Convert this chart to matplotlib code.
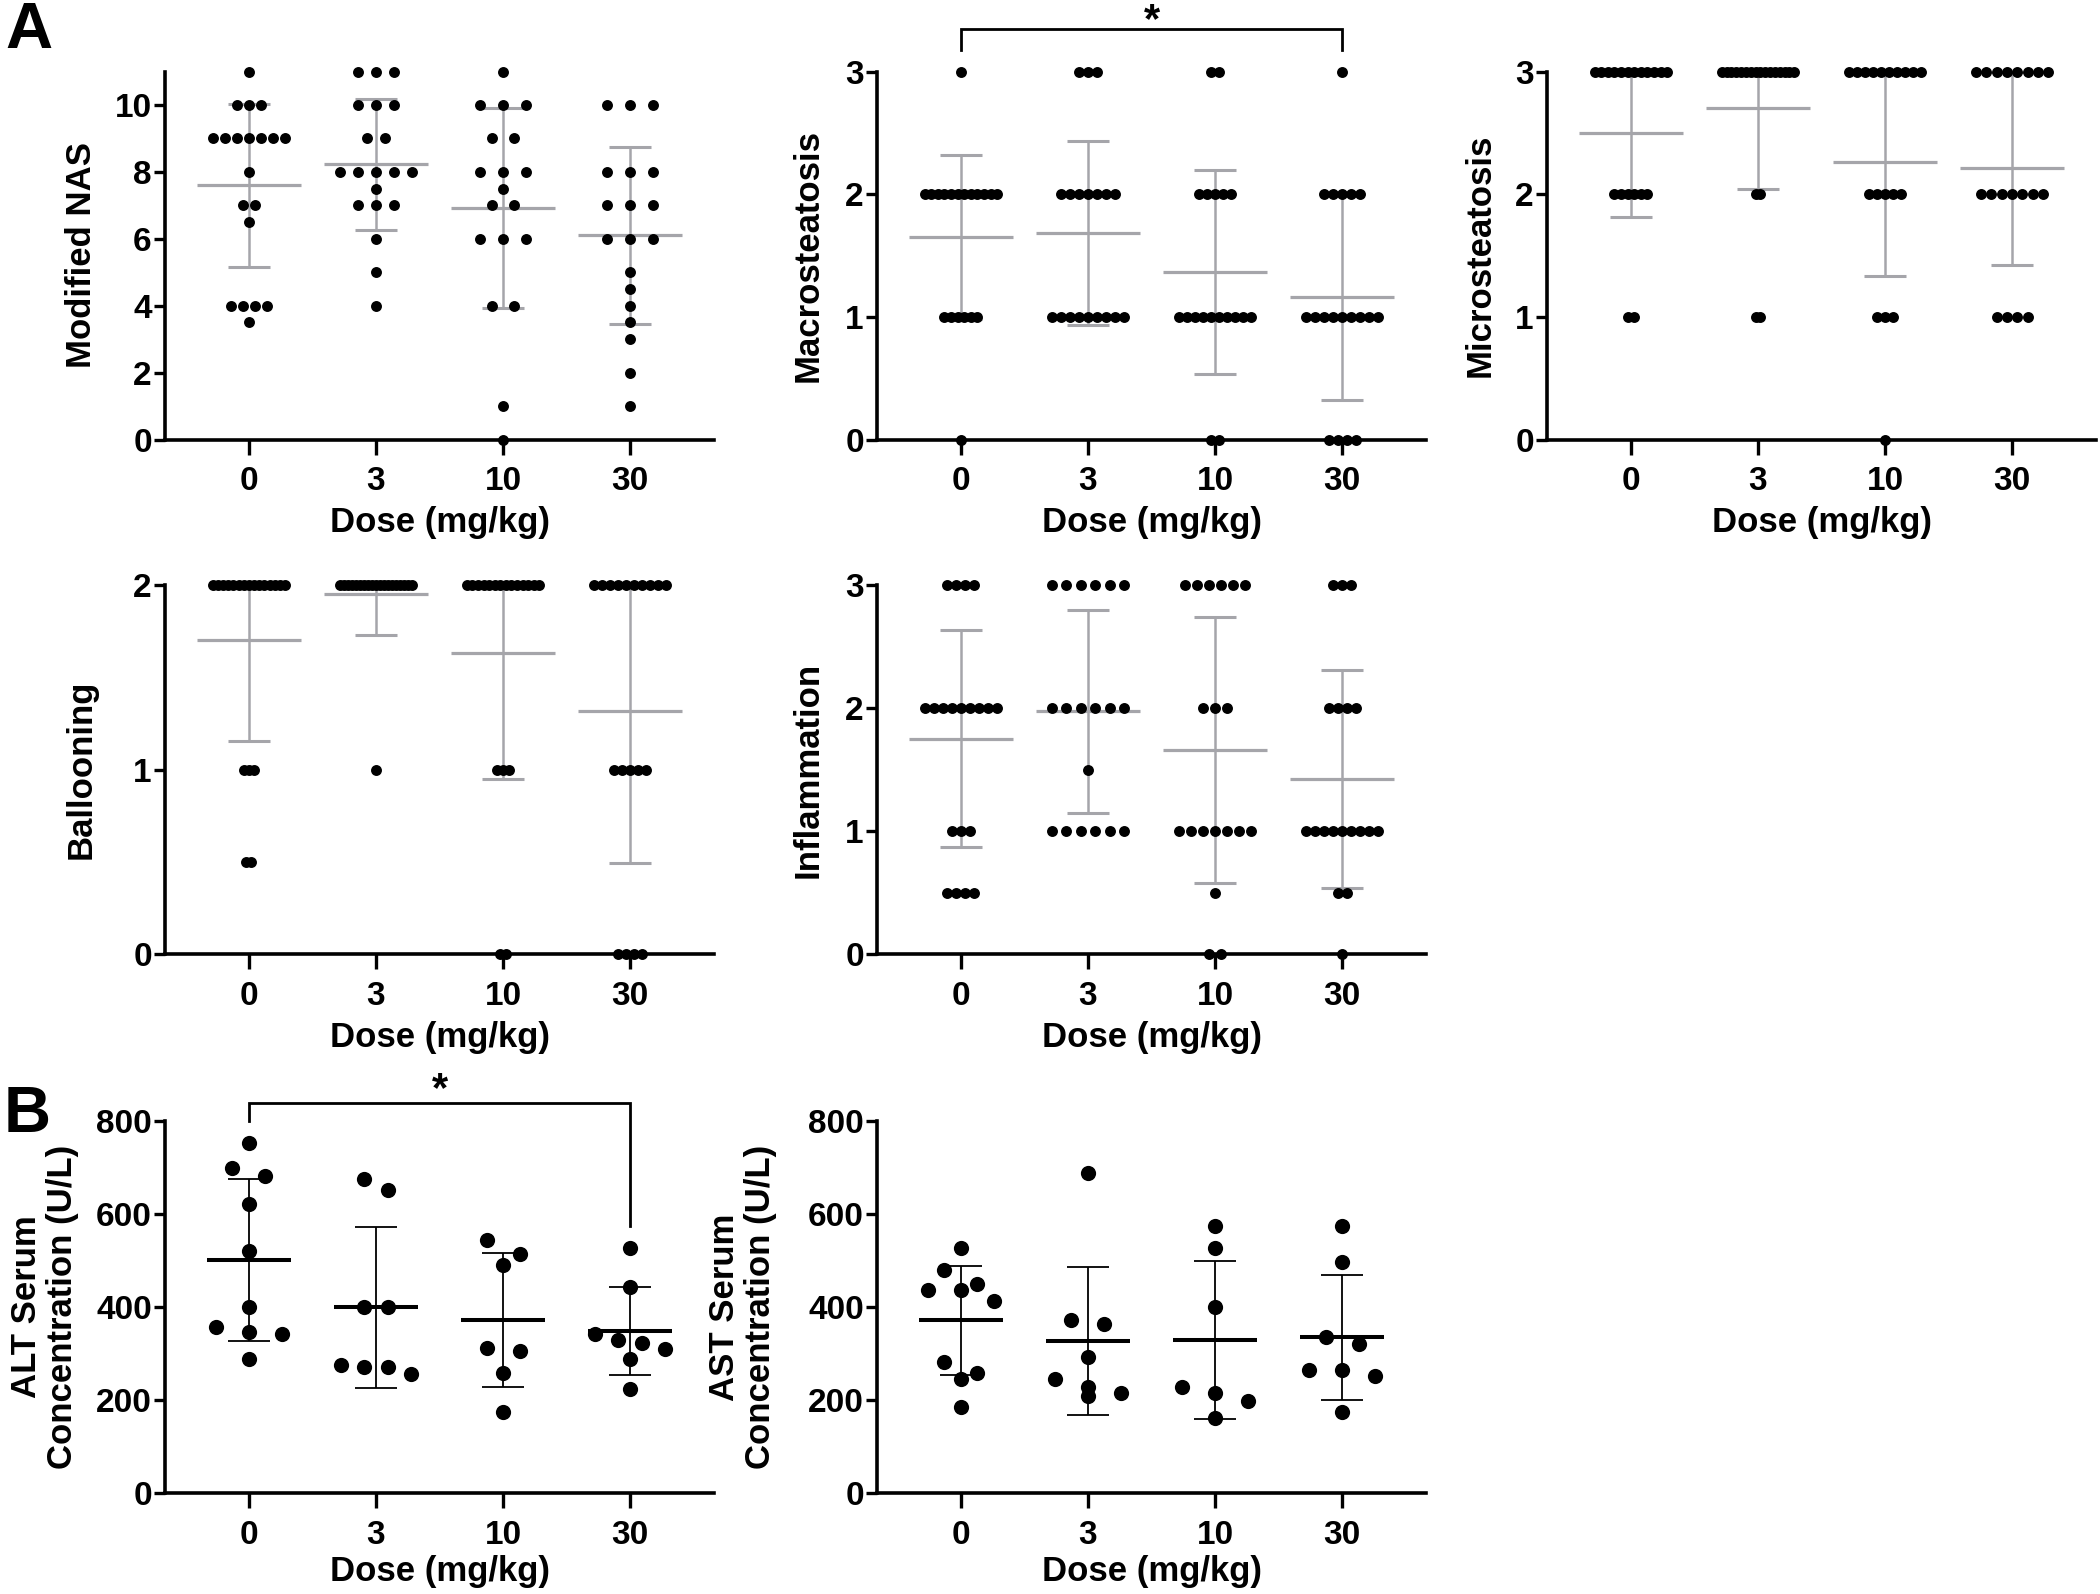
import numpy as np
import matplotlib
matplotlib.use("Agg")
import matplotlib.pyplot as plt

# dose groups (mg/kg)
doses = ["0", "3", "10", "30"]

# A: histology scores, one value per animal, per dose group
nas = [
    [11, 10, 10, 10, 9, 9, 9, 9, 9, 9, 9, 8, 7, 7, 6.5, 4, 4, 4, 4, 3.5],
    [11, 11, 11, 10, 10, 10, 9, 9, 8, 8, 8, 8, 8, 7.5, 7, 7, 7, 6, 5, 4],
    [11, 10, 10, 10, 9, 9, 8, 8, 8, 7.5, 7, 7, 6, 6, 6, 4, 4, 1, 0],
    [10, 10, 10, 8, 8, 8, 7, 7, 7, 6, 6, 6, 5, 4.5, 4, 3.5, 3, 2, 1],
]
macro = [
    [3, 2, 2, 2, 2, 2, 2, 2, 2, 2, 2, 2, 2, 1, 1, 1, 1, 1, 1, 0],
    [3, 3, 3, 2, 2, 2, 2, 2, 2, 2, 1, 1, 1, 1, 1, 1, 1, 1, 1],
    [3, 3, 2, 2, 2, 2, 2, 1, 1, 1, 1, 1, 1, 1, 1, 1, 1, 0, 0],
    [3, 2, 2, 2, 2, 2, 1, 1, 1, 1, 1, 1, 1, 1, 1, 0, 0, 0, 0],
]
micro = [
    [3, 3, 3, 3, 3, 3, 3, 3, 3, 3, 3, 3, 2, 2, 2, 2, 2, 2, 1, 1],
    [3, 3, 3, 3, 3, 3, 3, 3, 3, 3, 3, 3, 3, 3, 3, 3, 2, 2, 1, 1],
    [3, 3, 3, 3, 3, 3, 3, 3, 3, 3, 2, 2, 2, 2, 2, 1, 1, 1, 0],
    [3, 3, 3, 3, 3, 3, 3, 3, 2, 2, 2, 2, 2, 2, 2, 1, 1, 1, 1],
]
balloon = [
    [2, 2, 2, 2, 2, 2, 2, 2, 2, 2, 2, 2, 2, 2, 2, 1, 1, 1, 0.5, 0.5],
    [2, 2, 2, 2, 2, 2, 2, 2, 2, 2, 2, 2, 2, 2, 2, 2, 2, 2, 2, 1],
    [2, 2, 2, 2, 2, 2, 2, 2, 2, 2, 2, 2, 2, 2, 1, 1, 1, 0, 0],
    [2, 2, 2, 2, 2, 2, 2, 2, 2, 2, 1, 1, 1, 1, 1, 0, 0, 0, 0],
]
inflam = [
    [3, 3, 3, 3, 2, 2, 2, 2, 2, 2, 2, 2, 2, 1, 1, 1, 0.5, 0.5, 0.5, 0.5],
    [3, 3, 3, 3, 3, 3, 2, 2, 2, 2, 2, 2, 1.5, 1, 1, 1, 1, 1, 1],
    [3, 3, 3, 3, 3, 3, 2, 2, 2, 1, 1, 1, 1, 1, 1, 1, 0.5, 0, 0],
    [3, 3, 3, 2, 2, 2, 2, 1, 1, 1, 1, 1, 1, 1, 1, 1, 0.5, 0.5, 0],
]

# B: serum enzymes (U/L)
alt = [
    [753, 700, 681, 622, 521, 400, 357, 347, 343, 288],
    [675, 651, 400, 400, 275, 270, 270, 255],
    [545, 515, 491, 312, 305, 258, 174],
    [527, 443, 343, 329, 323, 310, 288, 223],
]
ast = [
    [527, 479, 449, 437, 436, 412, 282, 258, 245, 186],
    [688, 371, 364, 293, 245, 227, 216, 209],
    [575, 527, 400, 227, 216, 198, 162],
    [575, 496, 336, 321, 264, 264, 251, 174],
]

GRAY = "#a5a5aa"
FONT = "Liberation Sans"

W, H = 2100, 1594
fig = plt.figure(figsize=(W / 100, H / 100), dpi=100)

col_left = [165, 877, 1547]
ax_w = 549
rows = [(71.5, 439.5), (585, 954), (1121, 1493)]


def make_ax(col, row):
    top, bot = rows[row]
    return fig.add_axes([col_left[col] / W, 1 - bot / H, ax_w / W, (bot - top) / H])


def style(ax, ylim, yticks, ylabel, ylab_x, xlab_y=-0.225):
    ax.set_xlim(-0.66, 3.66)
    ax.set_ylim(*ylim)
    ax.set_yticks(yticks)
    ax.set_xticks(range(4))
    ax.set_xticklabels(doses)
    for s in ["top", "right"]:
        ax.spines[s].set_visible(False)
    for s in ["left", "bottom"]:
        ax.spines[s].set_linewidth(2.6)
        ax.spines[s].set_capstyle("projecting")
    ax.tick_params(axis="x", length=10.8, width=2.4, pad=8.5)
    ax.tick_params(axis="y", length=8, width=2.4, pad=1.5)
    for lab in ax.get_xticklabels() + ax.get_yticklabels():
        lab.set_fontfamily(FONT)
        lab.set_fontweight("bold")
        lab.set_fontsize(24)
    ax.set_xlabel("Dose (mg/kg)", fontfamily=FONT, fontweight="bold", fontsize=25)
    ax.xaxis.set_label_coords(0.5, xlab_y)
    ax.xaxis.label.set_va("center")
    ax.set_ylabel(ylabel, fontfamily=FONT, fontweight="bold", fontsize=25,
                  linespacing=1.1)
    ax.yaxis.set_label_coords(ylab_x, 0.5)
    ax.yaxis.label.set_va("center")


def score_panel(ax, data):
    # identical scores sit in a centred row, spacing shrinks for crowded groups
    for g, vals in enumerate(data):
        vals = np.asarray(vals, dtype=float)
        uniq, counts = np.unique(vals, return_counts=True)
        step = min(0.18, 0.57 / max(counts.max() - 1, 1))
        xs, ys = [], []
        for u, n in zip(uniq, counts):
            xs.extend(g + (np.arange(n) - (n - 1) / 2) * step)
            ys.extend([u] * n)
        ax.scatter(xs, ys, s=62, color="black", lw=0, zorder=3, clip_on=False)
        m, sd = vals.mean(), vals.std(ddof=1)
        ax.hlines(m, g - 0.41, g + 0.41, color=GRAY, lw=2.3, zorder=2)
        ax.vlines(g, m - sd, m + sd, color=GRAY, lw=1.8, zorder=2)
        ax.hlines([m - sd, m + sd], g - 0.165, g + 0.165, color=GRAY, lw=2.2, zorder=2)


def row_offsets(vals, thr):
    # values closer than thr share a row; rows are centred on the group
    vals = np.asarray(vals, dtype=float)
    order = np.argsort(-vals, kind="stable")
    bins, cur = [], [order[0]]
    for i in order[1:]:
        if vals[cur[0]] - vals[i] <= thr:
            cur.append(i)
        else:
            bins.append(cur)
            cur = [i]
    bins.append(cur)
    nmax = max(len(b) for b in bins)
    sp = min(0.26, 0.55 / max(nmax - 1, 1))
    offs = np.zeros(len(vals))
    for b in bins:
        n = len(b)
        offs[b] = (np.arange(n) - (n - 1) / 2) * sp
    return offs


def enzyme_panel(ax, data):
    pos = ax.get_position()
    ypx = pos.height * H / 800
    for g, vals in enumerate(data):
        vals = np.asarray(vals, dtype=float)
        xs = g + row_offsets(vals, 16 / ypx)
        ax.scatter(xs, vals, s=120, color="black", lw=0, zorder=3, clip_on=False)
        m, sd = vals.mean(), vals.std(ddof=1)
        ax.hlines(m, g - 0.33, g + 0.33, color="black", lw=2.9, zorder=4)
        ax.vlines(g, m - sd, m + sd, color="black", lw=1.3, zorder=4)
        ax.hlines([m - sd, m + sd], g - 0.165, g + 0.165, color="black", lw=1.3, zorder=4)


def bracket(ax, x0, x1, y, yl, yr, ystar):
    ax.plot([x0, x0, x1, x1], [yl, y, y, yr], color="black", lw=2.0, clip_on=False,
            solid_joinstyle="miter")
    ax.text((x0 + x1) / 2, ystar, "*", ha="center", va="center", fontsize=30,
            fontweight="bold", fontfamily=FONT)


ax = make_ax(0, 0)
score_panel(ax, nas)
style(ax, (0, 11), [0, 2, 4, 6, 8, 10], "Modified NAS", -0.152)

ax = make_ax(1, 0)
score_panel(ax, macro)
style(ax, (0, 3), [0, 1, 2, 3], "Macrosteatosis", -0.126)
bracket(ax, 0, 3, 3.345, 3.175, 3.175, 3.415)

ax = make_ax(2, 0)
score_panel(ax, micro)
style(ax, (0, 3), [0, 1, 2, 3], "Microsteatosis", -0.122)

ax = make_ax(0, 1)
score_panel(ax, balloon)
style(ax, (0, 2), [0, 1, 2], "Ballooning", -0.152)

ax = make_ax(1, 1)
score_panel(ax, inflam)
style(ax, (0, 3), [0, 1, 2, 3], "Inflammation", -0.126)

ax = make_ax(0, 2)
enzyme_panel(ax, alt)
style(ax, (0, 800), [0, 200, 400, 600, 800], "ALT Serum\nConcentration (U/L)", -0.22,
      xlab_y=-0.21)
bracket(ax, 0, 3, 839, 801, 575, 866)

ax = make_ax(1, 2)
enzyme_panel(ax, ast)
style(ax, (0, 800), [0, 200, 400, 600, 800], "AST Serum\nConcentration (U/L)", -0.245,
      xlab_y=-0.21)

fig.text(29 / W, 1 - 31 / H, "A", fontsize=47, fontweight="bold", fontfamily=FONT,
         ha="center", va="center")
fig.text(27 / W, 1 - 1115 / H, "B", fontsize=47, fontweight="bold", fontfamily=FONT,
         ha="center", va="center")

fig.savefig("out.png", dpi=100, facecolor="white")
